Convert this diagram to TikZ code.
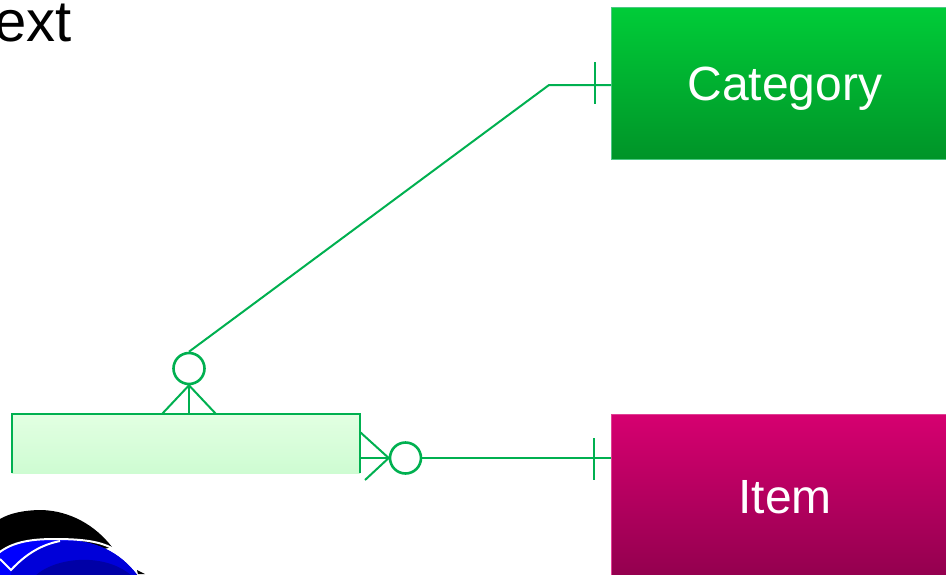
\documentclass[tikz,border=0pt]{standalone}
\usepackage{fontspec}
\setmainfont{Liberation Sans}
\usetikzlibrary{shapes,arrows,positioning,fit}
\definecolor{erline}{RGB}{0,176,80}
\definecolor{cattop}{RGB}{0,204,56}
\definecolor{catbot}{RGB}{0,148,40}
\definecolor{itemtop}{RGB}{214,0,112}
\definecolor{itembot}{RGB}{146,0,78}
\definecolor{linktop}{RGB}{226,255,226}
\definecolor{linkbot}{RGB}{206,252,210}
\tikzstyle{entity} = [rectangle, anchor=north west, minimum width=349pt, inner sep=0pt]
\tikzstyle{label} = [text=white, font=\fontsize{48}{50}\selectfont]
\tikzstyle{assoc} = [rectangle, anchor=north west, minimum width=348pt, minimum height=59pt, inner sep=0pt, top color=linktop, bottom color=linkbot]
\tikzstyle{line} = [draw=erline, line width=2pt]
\tikzstyle{optional} = [circle, draw=erline, line width=2.6pt, fill=white, minimum size=31pt, inner sep=0pt]
\begin{document}
\begin{tikzpicture}[x=1pt, y=-1pt]
    \useasboundingbox (0,0) rectangle (946,574);
    \clip (0,0) rectangle (946,574);
    % Place nodes
    \node [anchor=base east, inner sep=0pt, font=\fontsize{58}{58}\selectfont] (title) at (72,41) {ext};
    \node [entity, minimum height=152pt, draw=erline!70!white, line width=0.8pt, top color=cattop, bottom color=catbot] (category) at (611,7) {};
    \node [entity, minimum height=165pt, draw=itemtop!75!white, line width=0.8pt, top color=itemtop, bottom color=itembot] (item) at (611,414) {};
    \node [label] (categorytext) at (785,89) {Category};
    \node [label] (itemtext) at (785,497) {Item};
    \node [assoc] (link) at (12,414) {};
    \node [optional] (circletop) at (189,368.5) {};
    \node [optional] (circleright) at (405.5,458) {};
    % Corner and ticks
    \coordinate (bend) at (549,85);
    \coordinate (tickatop) at (595,62);
    \coordinate (tickabot) at (595,104);
    \coordinate (tickbtop) at (594,438);
    \coordinate (tickbbot) at (594,480);
    \coordinate (toea) at (162,414);
    \coordinate (toeb) at (189,414);
    \coordinate (toec) at (216,414);
    \coordinate (toed) at (360,432);
    \coordinate (toee) at (360,458);
    \coordinate (toef) at (365,480);
    % Draw edges
    \path [line] (link.south west) |- (link.north east) -- (link.south east);
    \path [line] (circletop.north) -- (bend) -- (bend -| category.west);
    \path [line] (tickatop) -- (tickabot);
    \path [line] (circleright.east) -- (circleright -| item.west);
    \path [line] (tickbtop) -- (tickbbot);
    \path [line] (circletop.south) -- (toea);
    \path [line] (circletop.south) -- (toeb);
    \path [line] (circletop.south) -- (toec);
    \path [line] (circleright.west) -- (toed);
    \path [line] (circleright.west) -- (toee);
    \path [line] (circleright.west) -- (toef);
    % Globe
    \fill [black] (0,519) .. controls (10,513) and (25,510) .. (42,510) .. controls (70,511) and (95,525) .. (112,547) -- (60,560) -- (0,560) -- cycle;
    \fill [black] (137,570) -- (145,574) -- (138,574) -- cycle;
    \fill [blue] (-10,560) .. controls (10,542) and (30,539) .. (55,539) .. controls (95,539) and (120,552) .. (138,576) -- (-10,576) -- cycle;
    \fill [blue!85!black] (11,570) .. controls (25,555) and (40,545) .. (60,541) .. controls (95,539) and (120,552) .. (138,576) -- (11,576) -- cycle;
    \fill [blue!65!black] (35,576) .. controls (55,557) and (105,552) .. (132,576) -- cycle;
    \draw [white, line width=2pt] (-5,556) .. controls (10,542) and (30,539) .. (55,539) .. controls (85,539) and (100,542) .. (112,548);
    \draw [white, line width=2pt] (0,559) -- (11,570) .. controls (25,555) and (40,545) .. (60,541);
\end{tikzpicture}
\end{document}
